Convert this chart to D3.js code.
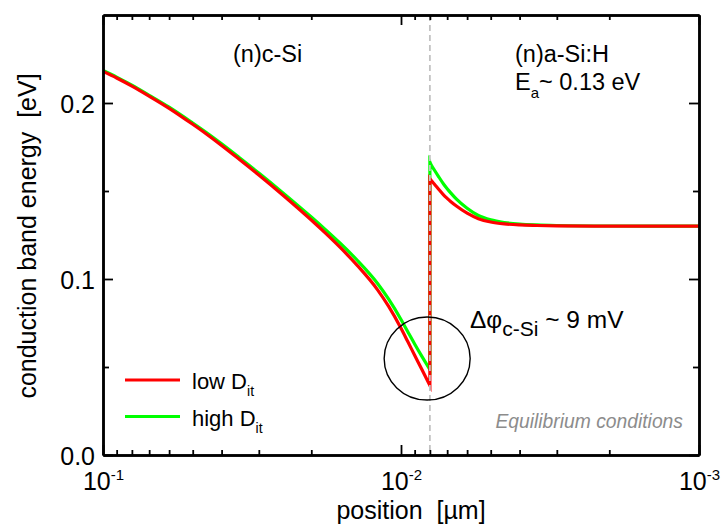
<!DOCTYPE html>
<html>
<head>
<meta charset="utf-8">
<script src="https://cdn.jsdelivr.net/npm/d3@7"></script>
<style>
  html, body { margin: 0; padding: 0; background: #fff; }
  svg { display: block; font-family: "Liberation Sans", Arial, Helvetica, sans-serif; }
  svg text { white-space: pre; }
</style>
</head>
<body>
<svg id="chart" width="723" height="527"></svg>
<script>
// Position grid (µm) on the crystalline-silicon side, ending at the hetero-interface
const posCSi = [0.1, 0.09, 0.08, 0.07, 0.06, 0.05, 0.045, 0.04, 0.035, 0.03, 0.025,
                0.02, 0.018, 0.016, 0.014, 0.012, 0.011, 0.01, 0.0095, 0.009, 0.0085, 0.008];
// Position grid (µm) on the amorphous-silicon side, starting at the interface
const posASi = [0.008, 0.0079, 0.0077, 0.0075, 0.0072, 0.007, 0.0068, 0.0065, 0.006,
                0.0055, 0.005, 0.0045, 0.004, 0.0035, 0.003, 0.002, 0.001];

// Conduction band energy (eV), low interface defect density
const lowDitCSi = [0.2180, 0.2142, 0.2096, 0.2039, 0.1970, 0.1879, 0.1824, 0.1759, 0.1682, 0.1591, 0.1479,
                   0.1335, 0.1263, 0.1179, 0.1076, 0.0940, 0.0844, 0.0720, 0.0646, 0.0567, 0.0484, 0.0395];
const lowDitASi = [0.1570, 0.1558, 0.1536, 0.1513, 0.1478, 0.1458, 0.1439, 0.1413, 0.1374,
                   0.1343, 0.1324, 0.1313, 0.1307, 0.1304, 0.1302, 0.1300, 0.1300];

// Conduction band energy (eV), high interface defect density
const highDitCSi = [0.2185, 0.2147, 0.2101, 0.2044, 0.1976, 0.1886, 0.1832, 0.1768, 0.1692, 0.1602, 0.1492,
                    0.1352, 0.1283, 0.1203, 0.1105, 0.0976, 0.0885, 0.0770, 0.0702, 0.0631, 0.0559, 0.0485];
const highDitASi = [0.1665, 0.1645, 0.1615, 0.1585, 0.1540, 0.1513, 0.1488, 0.1452, 0.1402,
                    0.1361, 0.1336, 0.1321, 0.1312, 0.1307, 0.1304, 0.1301, 0.1300];

const interfacePos = 0.008;

// Axis ticks
const xMajor = [0.1, 0.01, 0.001];
const xMajorBase = ["10", "10", "10"];
const xMajorExp = ["-1", "-2", "-3"];
const xMinor = [0.09, 0.08, 0.07, 0.06, 0.05, 0.04, 0.03, 0.02,
                0.009, 0.008, 0.007, 0.006, 0.005, 0.004, 0.003, 0.002];
const yMajor = [0, 0.1, 0.2];
const yMajorLabels = ["0.0", "0.1", "0.2"];
const yMinor = [0.05, 0.15];

const svg = d3.select("#chart");
const W = 723, H = 527;
const margin = { left: 103, top: 15, right: 24, bottom: 72 };
const x0 = margin.left, x1 = W - margin.right;
const y0 = H - margin.bottom, y1 = margin.top;

const x = d3.scaleLog().domain([0.1, 0.001]).range([x0, x1]);
const y = d3.scaleLinear().domain([0, 0.25]).range([y0, y1]);

svg.append("defs").append("clipPath").attr("id", "plotClip")
  .append("rect").attr("x", x0).attr("y", y1).attr("width", x1 - x0).attr("height", y0 - y1);

// Band profiles: smooth on each side, with the abrupt step at the interface
const line = d3.line().x(d => x(d[0])).y(d => y(d[1])).curve(d3.curveMonotoneX);
function profilePath(csi, asi) {
  const a = line(posCSi.map((p, i) => [p, csi[i]]));
  const b = line(posASi.map((p, i) => [p, asi[i]]));
  return a + b.replace(/^M/, "L");
}

const plot = svg.append("g").attr("clip-path", "url(#plotClip)");
plot.append("path")
  .attr("d", profilePath(highDitCSi, highDitASi))
  .attr("fill", "none").attr("stroke", "#00ff00").attr("stroke-width", 3.2)
  .attr("stroke-linejoin", "miter").attr("stroke-miterlimit", 10);
plot.append("path")
  .attr("d", profilePath(lowDitCSi, lowDitASi))
  .attr("fill", "none").attr("stroke", "#ff0000").attr("stroke-width", 3.2)
  .attr("stroke-linejoin", "miter").attr("stroke-miterlimit", 10);

// Interface marker
svg.append("line")
  .attr("x1", x(interfacePos)).attr("x2", x(interfacePos))
  .attr("y1", y1).attr("y2", y0)
  .attr("stroke", "#c2c2c2").attr("stroke-width", 1.8).attr("stroke-dasharray", "6,4");

// Circle around the c-Si surface potential difference
svg.append("ellipse")
  .attr("cx", x(0.00817)).attr("cy", y(0.0548))
  .attr("rx", 43).attr("ry", 41.5)
  .attr("fill", "none").attr("stroke", "#000").attr("stroke-width", 1.4);

// Axes (ticks point inward, mirrored on top and right)
function styleAxis(g) {
  g.select(".domain").attr("stroke", "#000").attr("stroke-width", 2.5);
  g.selectAll(".tick line").attr("stroke", "#000").attr("stroke-width", 1.8);
}
const axes = svg.append("g");
axes.append("g").attr("transform", `translate(0,${y0})`)
  .call(d3.axisBottom(x).tickValues(xMinor).tickSizeInner(-5).tickSizeOuter(0).tickFormat(""))
  .call(styleAxis);
const xBottomMajor = axes.append("g").attr("transform", `translate(0,${y0})`)
  .call(d3.axisBottom(x).tickValues(xMajor).tickSizeInner(-10).tickSizeOuter(0).tickFormat(""))
  .call(styleAxis);
axes.append("g").attr("transform", `translate(0,${y1})`)
  .call(d3.axisTop(x).tickValues(xMinor).tickSizeInner(-5).tickSizeOuter(0).tickFormat(""))
  .call(styleAxis);
axes.append("g").attr("transform", `translate(0,${y1})`)
  .call(d3.axisTop(x).tickValues(xMajor).tickSizeInner(-10).tickSizeOuter(0).tickFormat(""))
  .call(styleAxis);
axes.append("g").attr("transform", `translate(${x0},0)`)
  .call(d3.axisLeft(y).tickValues(yMinor).tickSizeInner(-6).tickSizeOuter(0).tickFormat(""))
  .call(styleAxis);
const yLeftMajor = axes.append("g").attr("transform", `translate(${x0},0)`)
  .call(d3.axisLeft(y).tickValues(yMajor).tickSizeInner(-10).tickSizeOuter(0)
        .tickFormat((d, i) => yMajorLabels[i]))
  .call(styleAxis);
axes.append("g").attr("transform", `translate(${x1},0)`)
  .call(d3.axisRight(y).tickValues(yMinor).tickSizeInner(-6).tickSizeOuter(0).tickFormat(""))
  .call(styleAxis);
axes.append("g").attr("transform", `translate(${x1},0)`)
  .call(d3.axisRight(y).tickValues(yMajor).tickSizeInner(-10).tickSizeOuter(0).tickFormat(""))
  .call(styleAxis);

yLeftMajor.selectAll(".tick text")
  .attr("x", -8).attr("dy", "0.36em")
  .attr("font-size", 25).attr("font-family", "Liberation Sans, Arial, sans-serif")
  .attr("fill", "#000");

// Decade labels as 10 with superscript exponent
xBottomMajor.selectAll(".tick").each(function (d, i) {
  const t = d3.select(this).append("text")
    .attr("y", 35).attr("text-anchor", "middle").attr("fill", "#000")
    .attr("font-size", 25).attr("font-family", "Liberation Sans, Arial, sans-serif");
  t.append("tspan").text(xMajorBase[i]);
  t.append("tspan").attr("font-size", 15).attr("dy", -10).text(xMajorExp[i]);
});

// Axis titles
svg.append("text")
  .attr("transform", "translate(36,236) rotate(-90)")
  .attr("text-anchor", "middle").attr("font-size", 25).attr("fill", "#000")
  .text("conduction band energy  [eV]");
svg.append("text")
  .attr("x", 411).attr("y", 519).attr("text-anchor", "middle")
  .attr("font-size", 25).attr("fill", "#000")
  .text("position  [µm]");

// Region labels
svg.append("text").attr("x", 233).attr("y", 62).attr("font-size", 23.5).attr("fill", "#000")
  .text("(n)c-Si");
svg.append("text").attr("x", 515).attr("y", 62).attr("font-size", 23.5).attr("fill", "#000")
  .text("(n)a-Si:H");
const ea = svg.append("text").attr("x", 515).attr("y", 90).attr("font-size", 23.5).attr("fill", "#000");
ea.append("tspan").text("E");
ea.append("tspan").attr("font-size", 15).attr("dy", 8).text("a");
ea.append("tspan").attr("dy", -8).text("~ 0.13 eV");

const dphi = svg.append("text").attr("x", 470).attr("y", 328).attr("font-size", 24.5).attr("fill", "#000");
dphi.append("tspan").text("Δφ");
dphi.append("tspan").attr("font-size", 21).attr("dy", 8).text("c-Si");
dphi.append("tspan").attr("dy", -8).text(" ~ 9 mV");

svg.append("text").attr("x", 683).attr("y", 428).attr("text-anchor", "end")
  .attr("font-size", 19.3).attr("font-style", "italic").attr("fill", "#8c8c8c")
  .text("Equilibrium conditions");

// Legend
const legend = [
  { label: "low D", sub: "it", color: "#ff0000", y: 380 },
  { label: "high D", sub: "it", color: "#00ff00", y: 416.5 }
];
legend.forEach(l => {
  svg.append("line").attr("x1", 125).attr("x2", 180).attr("y1", l.y).attr("y2", l.y)
    .attr("stroke", l.color).attr("stroke-width", 3.2);
  const t = svg.append("text").attr("x", 192).attr("y", l.y + 9).attr("font-size", 22).attr("fill", "#000");
  t.append("tspan").text(l.label);
  t.append("tspan").attr("font-size", 14).attr("dy", 7).text(l.sub);
});
</script>
</body>
</html>
